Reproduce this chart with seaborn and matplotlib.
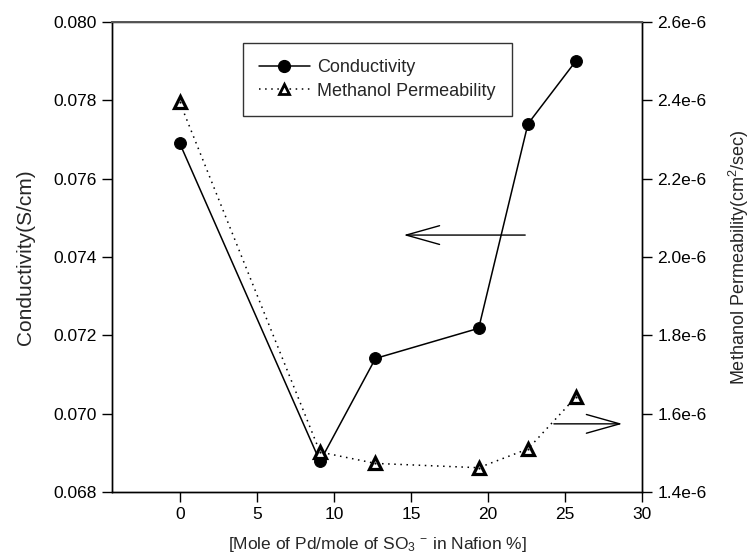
import matplotlib
matplotlib.use("Agg")
import matplotlib.pyplot as plt
import seaborn as sns
import pandas as pd
from matplotlib.lines import Line2D
from matplotlib.ticker import FixedLocator, FuncFormatter

# ---- data ----
pd_ratio = [0, 9.1, 12.7, 19.4, 22.6, 25.7]
conductivity = [0.0769, 0.06878, 0.07141, 0.07218, 0.07740, 0.0790]
permeability = [2.395e-6, 1.502e-6, 1.473e-6, 1.462e-6, 1.510e-6, 1.642e-6]
x_ticks = [0, 5, 10, 15, 20, 25, 30]
left_ticks = [0.068, 0.070, 0.072, 0.074, 0.076, 0.078, 0.080]
right_ticks = [1.4e-6, 1.6e-6, 1.8e-6, 2.0e-6, 2.2e-6, 2.4e-6, 2.6e-6]
right_labels = ["1.4e-6", "1.6e-6", "1.8e-6", "2.0e-6", "2.2e-6", "2.4e-6", "2.6e-6"]

df = pd.DataFrame({"x": pd_ratio, "cond": conductivity, "perm": permeability})

sns.set_style("ticks")
plt.rcParams["font.family"] = ["Liberation Sans", "DejaVu Sans"]
plt.rcParams["mathtext.fontset"] = "custom"
plt.rcParams["mathtext.rm"] = "Liberation Sans"
plt.rcParams["mathtext.it"] = "Liberation Sans:italic"
plt.rcParams["mathtext.bf"] = "Liberation Sans:bold"

fig = plt.figure(figsize=(7.51, 5.58), dpi=100)
ax = fig.add_axes([112 / 751, 66 / 558, 530 / 751, 470 / 558])
ax2 = ax.twinx()

sns.lineplot(data=df, x="x", y="cond", ax=ax, color="black", lw=1.1,
             marker="o", markersize=8.5, markerfacecolor="black",
             markeredgecolor="black", legend=False)
sns.lineplot(data=df, x="x", y="perm", ax=ax2, color="black", lw=1.1,
             linestyle=(0, (1, 3)), marker="^", markersize=8.5,
             markerfacecolor="white", markeredgecolor="black",
             markeredgewidth=2.3, legend=False)
# small dot inside the triangles
sns.scatterplot(data=df, x="x", y="perm", ax=ax2, color="black", s=3,
                legend=False, zorder=5)

ax.set_xlim(-4.4, 30)
ax.set_ylim(0.068, 0.080)
ax2.set_ylim(1.4e-6, 2.6e-6)
ax.xaxis.set_major_locator(FixedLocator(x_ticks))
ax.yaxis.set_major_locator(FixedLocator(left_ticks))
ax.yaxis.set_major_formatter(FuncFormatter(lambda v, p: f"{v:.3f}"))
ax2.yaxis.set_major_locator(FixedLocator(right_ticks))
ax2.set_yticklabels(right_labels)

for a in (ax, ax2):
    a.tick_params(axis="both", direction="out", length=7, width=1,
                  labelsize=12.5, colors="black", pad=4)
    for s in a.spines.values():
        s.set_visible(True)
        s.set_color("black")
        s.set_linewidth(1)
ax2.spines["top"].set_color("#555555")
ax2.spines["top"].set_linewidth(1.4)

ax.set_xlabel(r"[Mole of Pd/mole of SO$_3$ $^{-}$ in Nafion %]", fontsize=12.5, labelpad=9)
ax.set_ylabel("Conductivity(S/cm)", fontsize=15, labelpad=13)
ax2.set_ylabel(r"Methanol Permeability(cm$^2$/sec)", fontsize=13, labelpad=15)

# arrows
ax.annotate("", xy=(14.35, 0.07456), xytext=(22.6, 0.07456),
            arrowprops=dict(arrowstyle="->,head_length=1.6,head_width=0.45",
                            color="black", lw=1, mutation_scale=15))
ax2.annotate("", xy=(28.9, 1.574e-6), xytext=(24.1, 1.574e-6),
             arrowprops=dict(arrowstyle="->,head_length=1.6,head_width=0.45",
                             color="black", lw=1, mutation_scale=15))

handles = [
    Line2D([], [], color="black", lw=1.1, marker="o", markersize=8.5),
    Line2D([], [], color="black", lw=1.1, linestyle=(0, (1, 3)), marker="^",
           markersize=7, markerfacecolor="white", markeredgewidth=2),
]
leg = ax.legend(handles, ["Conductivity", "Methanol Permeability"],
                loc="upper left", bbox_to_anchor=(0.247, 0.955),
                frameon=True, fancybox=False, edgecolor="black",
                fontsize=13, handlelength=2.8, handletextpad=0.4,
                borderpad=0.9, labelspacing=0.35, borderaxespad=0)
leg.get_frame().set_linewidth(1)

fig.savefig("out.png", dpi=100)
